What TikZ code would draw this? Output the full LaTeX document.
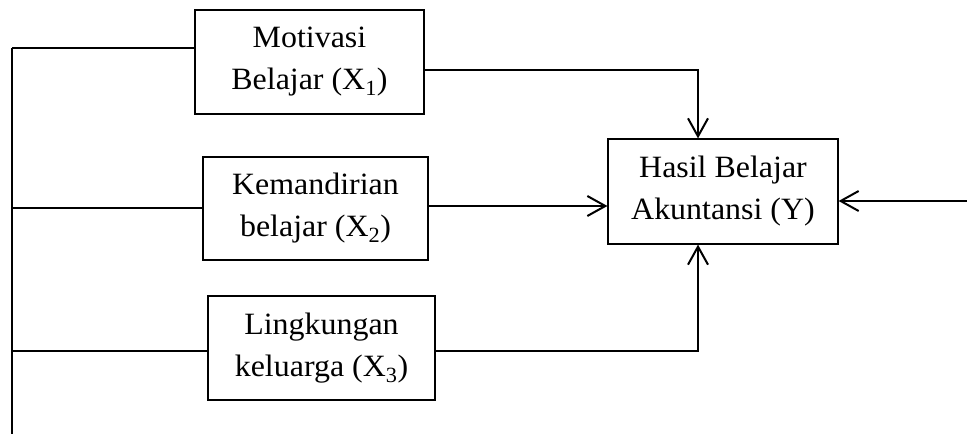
\documentclass[tikz,border=0pt]{standalone}
\usepackage{fontspec}
\setmainfont{Liberation Serif}[FakeStretch=1.03]
\usetikzlibrary{arrows.meta}
\begin{document}
\begin{tikzpicture}[x=1pt,y=-1pt,
  box/.style={draw, line width=1.2pt, align=center, inner sep=0pt,
    font=\fontsize{31}{42}\selectfont},
  ln/.style={line width=1.4pt, draw=black},
  thk/.style={line width=2pt, draw=black},
  tip/.style={-{Straight Barb[length=18pt,width=20pt,line width=2pt]}}]
\useasboundingbox (0,0) rectangle (967,434);
\node[box, minimum width=229pt, minimum height=104pt] (b1) at (309.5,62) {Motivasi\\Belajar (X\textsubscript{1})};
\node[box, minimum width=225pt, minimum height=103pt] (b2) at (315.5,208.5) {Kemandirian\\belajar (X\textsubscript{2})};
\node[box, minimum width=227pt, minimum height=104pt] (b3) at (321.5,348) {Lingkungan\\keluarga (X\textsubscript{3})};
\node[box, minimum width=230pt, minimum height=105pt] (y) at (723,191.5) {Hasil Belajar\\Akuntansi (Y)};
\coordinate (top) at (12,48);
\coordinate (bot) at (12,434);
\coordinate (l2) at (12,208);
\coordinate (l3) at (12,351);
\coordinate (c1) at (698,70);
\coordinate (c3) at (698,351);
\coordinate (r) at (967,201);
\coordinate (m2) at (0,206);
\draw[ln] (top) -- (bot);
\draw[ln] (top) -- (top -| b1.west);
\draw[ln] (l2) -- (l2 -| b2.west);
\draw[ln] (l3) -- (l3 -| b3.west);
\draw[ln, tip] (c1 -| b1.east) -- (c1) -- (c1 |- y.north);
\draw[ln, tip] (c3 -| b3.east) -- (c3) -- (c3 |- y.south);
\draw[thk, tip] (m2 -| b2.east) -- (m2 -| y.west);
\draw[thk, tip] (r) -- (r -| y.east);
\end{tikzpicture}
\end{document}
